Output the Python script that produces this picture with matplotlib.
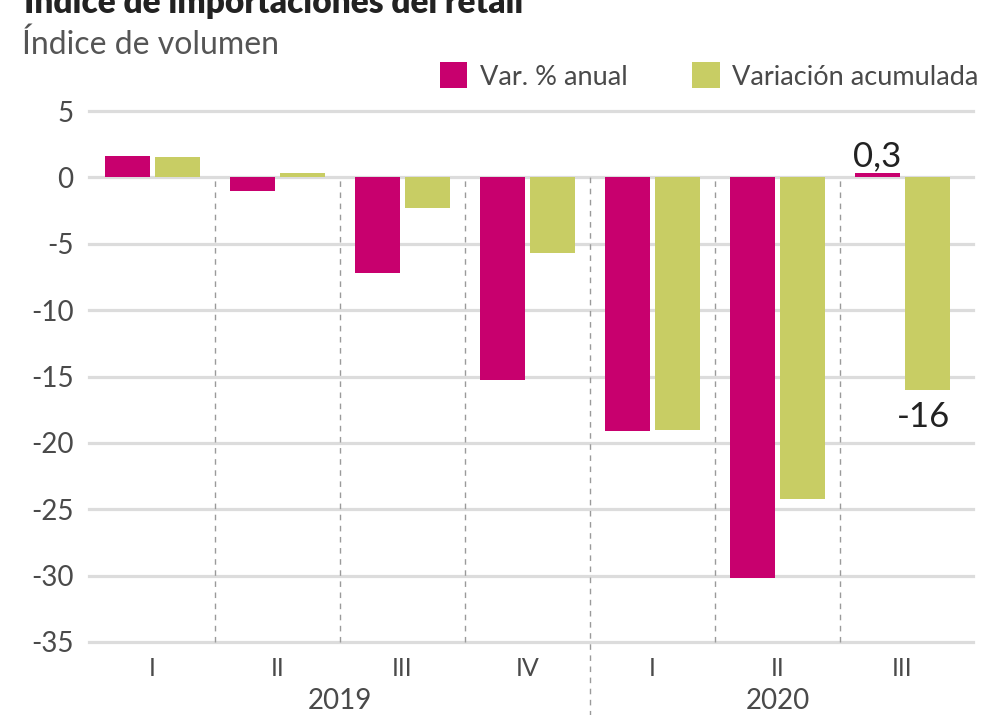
import matplotlib
matplotlib.use("Agg")
import matplotlib.pyplot as plt
from matplotlib.patches import Rectangle
import numpy as np

# ---- data ----
quarters = ["I", "II", "III", "IV", "I", "II", "III"]
years = ["2019", "2020"]
var_anual = [1.6, -1.0, -7.2, -15.3, -19.1, -30.2, 0.3]
var_acumulada = [1.5, 0.3, -2.3, -5.7, -19.0, -24.2, -16.0]
yticks = [5, 0, -5, -10, -15, -20, -25, -30, -35]
ytick_labels = ["5", "0", "-5", "-10", "-15", "-20", "-25", "-30", "-35"]
label_anual = "0,3"
label_acum = "-16"

MAG = "#C8006E"
GRN = "#C8CD64"
GRID = "#dcdcdc"
TXT = "#4a4a4a"

plt.rcParams["font.family"] = ["Lato", "DejaVu Sans"]

W, H = 998, 715
fig = plt.figure(figsize=(W / 100, H / 100), dpi=100)
fig.patch.set_facecolor("white")

ax = fig.add_axes([89 / W, 1 - 642 / H, (973 - 89) / W, (642 - 111) / H])
x = np.arange(len(quarters))
ax.set_xlim(-0.508, 6.564)
ax.set_ylim(-35, 5)

for s in ax.spines.values():
    s.set_visible(False)

# gridlines
for yv in yticks:
    ax.axhline(yv, color=GRID, lw=2.3, zorder=1, clip_on=False)

# separators
seps = [0.5, 1.5, 2.5, 4.5, 5.5]
ax.vlines(seps, -35, 0, colors="#9a9a9a", linestyles=(0, (4, 4)), lw=1.0, zorder=2, clip_on=False)
ax.vlines([3.5], -40.8, 0, colors="#9a9a9a", linestyles=(0, (4, 4)), lw=1.0, zorder=2, clip_on=False)

bw = 0.36
ax.bar(x - 0.2, var_anual, width=bw, color=MAG, zorder=3)
ax.bar(x + 0.2, var_acumulada, width=bw, color=GRN, zorder=3)

ax.set_yticks(yticks)
ax.set_yticklabels(ytick_labels)
ax.set_xticks(x)
ax.set_xticklabels(quarters)
ax.tick_params(axis="y", length=0, pad=11, labelsize=20, labelcolor=TXT)
ax.tick_params(axis="x", length=0, pad=11, labelsize=18, labelcolor=TXT)

# year labels
ax.text(1.5, -39.45, years[0], ha="center", va="center", fontsize=20, color=TXT)
ax.text(5.0, -39.45, years[1], ha="center", va="center", fontsize=20, color=TXT)

# value labels
ax.annotate(label_anual, xy=(6 - 0.2, var_anual[6]), xytext=(0, 5), textcoords="offset points",
            ha="center", va="baseline", fontsize=25, color="#222222")
ax.annotate(label_acum, xy=(6 + 0.2, var_acumulada[6]), xytext=(-3, -27), textcoords="offset points",
            ha="center", va="baseline", fontsize=25, color="#222222")

# legend
fig.add_artist(Rectangle((440 / W, 1 - 88 / H), 27 / W, 26 / H, transform=fig.transFigure,
                         facecolor=MAG, edgecolor="none"))
fig.text(480 / W, 1 - 85 / H, "Var. % anual", va="baseline", ha="left", fontsize=19.5, color=TXT)
fig.add_artist(Rectangle((692 / W, 1 - 88 / H), 28 / W, 26 / H, transform=fig.transFigure,
                         facecolor=GRN, edgecolor="none"))
fig.text(732 / W, 1 - 85 / H, "Variación acumulada", va="baseline", ha="left", fontsize=19.5, color=TXT)

# titles (the reference shows the title cut at the top edge)
fig.text(24 / W, 1 - 13 / H, "Índice de importaciones del retail", va="baseline", ha="left",
         fontsize=24, fontweight="heavy", color="#222222")
fig.text(22 / W, 1 - 54 / H, "Índice de volumen", va="baseline", ha="left",
         fontsize=23, color="#555555")

fig.savefig("out.png", dpi=100, facecolor="white")
